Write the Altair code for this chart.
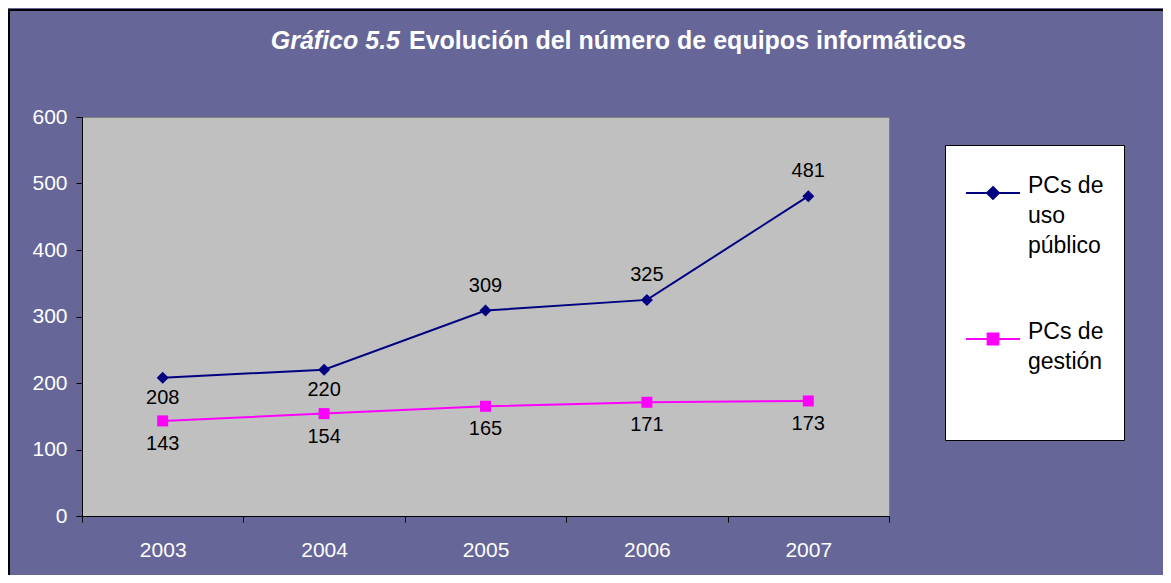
import altair as alt
import pandas as pd

# ---- data ----
years = ["2003", "2004", "2005", "2006", "2007"]
publico = [208, 220, 309, 325, 481]
gestion = [143, 154, 165, 171, 173]
series = ["PCs de uso público", "PCs de gestión"]
colors = ["#000080", "#FF00FF"]
publico_below = ["2003", "2004"]  # years where the label sits under the point
title_a = "Gráfico 5.5"
title_b = "Evolución del número de equipos informáticos"

rows = []
for i, yr in enumerate(years):
    rows.append({"year": yr, "serie": series[0], "value": publico[i]})
    rows.append({"year": yr, "serie": series[1], "value": gestion[i]})
df = pd.DataFrame(rows)

FONT = "Liberation Sans"
W, H = 807, 399
BG = "#666699"

DIAMOND_PATH = "M-1,0L1,0M0,-0.22L0.22,0L0,0.22L-0.22,0Z"
SQUARE_PATH = "M-1,0L1,0M-0.2,-0.2L0.2,-0.2L0.2,0.2L-0.2,0.2Z"

legend = alt.Legend(
    title=" ",
    titleOrient="bottom",
    titleFontSize=2,
    titlePadding=14,
    orient="none",
    legendX=863,
    legendY=28,
    fillColor="white",
    strokeColor="black",
    padding=20,
    symbolSize=2916,
    symbolStrokeWidth=2,
    symbolOpacity=1,
    labelFont=FONT,
    labelFontSize=23,
    labelColor="black",
    labelLimit=0,
    labelOffset=7,
    labelBaseline="alphabetic",
    rowPadding=53,
    labelExpr="datum.value == 'PCs de gestión' ? ['PCs de', 'gestión', ''] : ['PCs de', 'uso', 'público']",
)

color_scale = alt.Scale(domain=series, range=colors)
color_enc = alt.Color("serie:N", scale=color_scale, legend=legend)
stroke_enc = alt.Stroke("serie:N", scale=color_scale, legend=legend)
shape_enc = alt.Shape("serie:N", scale=alt.Scale(domain=series, range=[DIAMOND_PATH, SQUARE_PATH]), legend=legend)

x_enc = alt.X(
    "year:N",
    scale=alt.Scale(type="band", paddingInner=0, paddingOuter=0),
    axis=alt.Axis(title=None, labelAngle=0, tickBand="extent", labelPadding=17, tickSize=6),
)
y_enc = alt.Y(
    "value:Q",
    scale=alt.Scale(domain=[0, 600], nice=False),
    axis=alt.Axis(title=None, values=[0, 100, 200, 300, 400, 500, 600], grid=False, labelPadding=9, tickSize=6),
)

base = alt.Chart(df).encode(x=x_enc, y=y_enc)

lines = base.mark_line(strokeWidth=2).encode(color=color_enc)

pts_pub = base.mark_point(filled=True, opacity=1, shape="diamond", size=144, color=colors[0]).transform_filter(
    alt.FieldEqualPredicate(field="serie", equal=series[0])
)
pts_ges = base.mark_point(filled=True, opacity=1, shape="square", size=121, color=colors[1]).transform_filter(
    alt.FieldEqualPredicate(field="serie", equal=series[1])
)

# layer that only feeds the legend (no marks drawn)
legend_layer = base.mark_point(filled=True, opacity=1, size=2916, strokeWidth=2).encode(
    color=color_enc, stroke=stroke_enc, shape=shape_enc
).transform_filter("false")

lbl_style = dict(font=FONT, fontSize=20, color="black")

pub_below = base.mark_text(dy=20, **lbl_style).encode(text="value:Q").transform_filter(
    alt.FieldEqualPredicate(field="serie", equal=series[0])
).transform_filter(alt.FieldOneOfPredicate(field="year", oneOf=publico_below))

pub_above = base.mark_text(dy=-25, **lbl_style).encode(text="value:Q").transform_filter(
    alt.FieldEqualPredicate(field="serie", equal=series[0])
).transform_filter(~alt.FieldOneOfPredicate(field="year", oneOf=publico_below))

ges_labels = base.mark_text(dy=23, **lbl_style).encode(text="value:Q").transform_filter(
    alt.FieldEqualPredicate(field="serie", equal=series[1])
)

title_df = pd.DataFrame({"a": [title_a], "b": [title_b]})
t1 = alt.Chart(title_df).mark_text(
    font=FONT, fontSize=25, fontWeight="bold", fontStyle="italic", color="white",
    align="right", baseline="middle",
).encode(x=alt.value(318), y=alt.value(-76), text="a:N")
t2 = alt.Chart(title_df).mark_text(
    font=FONT, fontSize=25, fontWeight="bold", color="white",
    align="left", baseline="middle",
).encode(x=alt.value(327), y=alt.value(-76), text="b:N")

frame = alt.Chart(title_df).mark_rect(filled=False, stroke="black", strokeWidth=2).encode(
    x=alt.value(-73), x2=alt.value(1200), y=alt.value(-107), y2=alt.value(600)
)

chart = (
    alt.layer(frame, lines, pts_pub, pts_ges, legend_layer, pub_below, pub_above, ges_labels, t1, t2)
    .properties(
        width=W,
        height=H,
        background=BG,
        padding={"left": 74, "top": 109, "right": 1155 - 74 - W, "bottom": 567 - 109 - H},
        autosize=alt.AutoSizeParams(type="none"),
    )
    .configure(style={"guide-label": {"lineHeight": 30}})
    .configure_view(fill="#C0C0C0", stroke="#808080", strokeWidth=1)
    .configure_axis(
        domainColor="black",
        tickColor="black",
        labelColor="white",
        labelFont=FONT,
        labelFontSize=21,
        domainWidth=1,
        tickWidth=1,
        zindex=1,
    )
)

chart.save("out.html", embed_options={"renderer": "svg", "actions": False})
